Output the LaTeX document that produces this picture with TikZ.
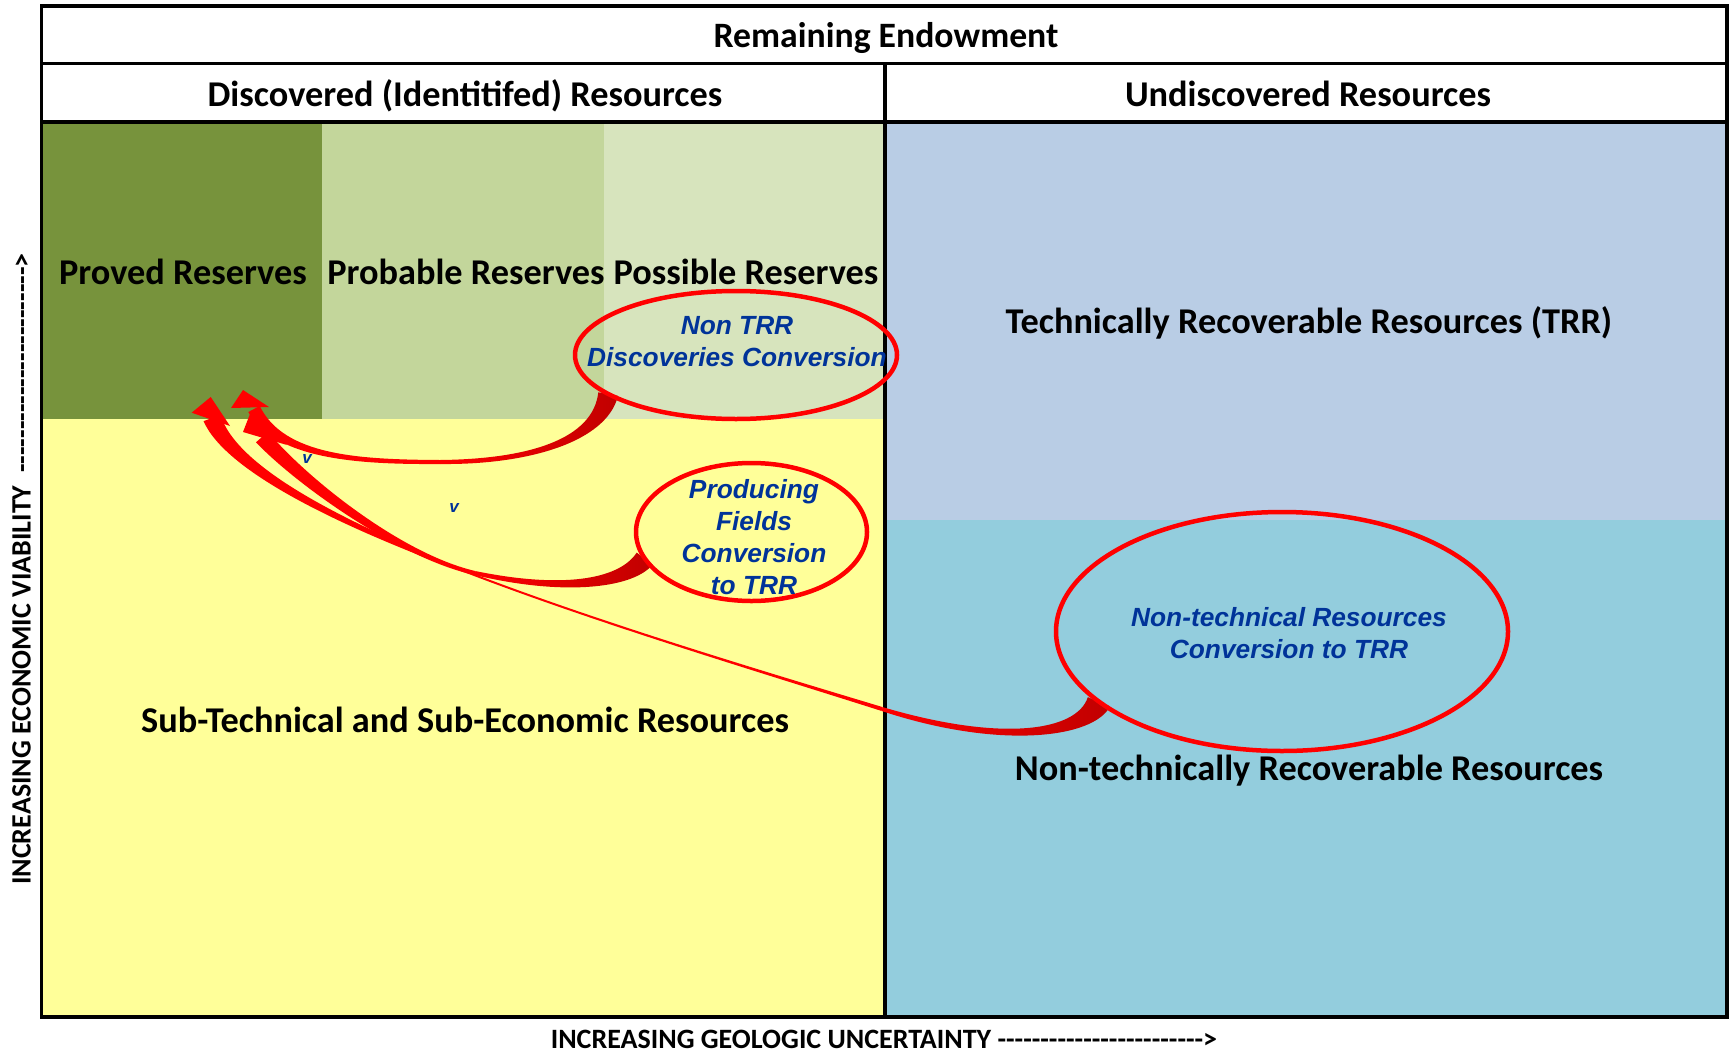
\documentclass[tikz,border=0pt]{standalone}
\usepackage{fontspec}
\setmainfont{Carlito}
\newfontfamily\calfont{Carlito}
\newfontfamily\arfont{Liberation Sans}
\usetikzlibrary{shapes.geometric,calc}
\definecolor{provedc}{RGB}{119,147,60}
\definecolor{probc}{RGB}{195,214,155}
\definecolor{possc}{RGB}{215,228,189}
\definecolor{subc}{RGB}{255,255,153}
\definecolor{trrc}{RGB}{185,205,229}
\definecolor{ntrc}{RGB}{147,205,221}
\definecolor{bluetxt}{RGB}{0,51,153}
\definecolor{arrred}{RGB}{255,0,0}
\definecolor{arrdark}{RGB}{192,0,0}
% tapered band along a cubic: #1 style, #2..#5 points, #6..#9 half widths
\newcommand{\taperseg}[9]{%
  \path[#1] ($(#2)!#6!90:(#3)$) .. controls ($(#3)!#7!-90:(#2)$) and ($(#4)!#8!90:(#5)$) .. ($(#5)!#9!-90:(#4)$)
    -- ($(#5)!#9!90:(#4)$) .. controls ($(#4)!#8!-90:(#5)$) and ($(#3)!#7!90:(#2)$) .. ($(#2)!#6!-90:(#3)$) -- cycle;}
\newcommand{\dashrun}[1]{\foreach \i in {1,...,#1}{\hbox{-}}}
\begin{document}
\begin{tikzpicture}[x=1pt,y=-1pt,
  lbl/.style={anchor=base,inner sep=0pt,font=\calfont\bfseries\fontsize{36.3}{42}\selectfont},
  axislbl/.style={anchor=base,inner sep=0pt,text depth=0pt,font=\calfont\bfseries\fontsize{28}{34}\selectfont},
  bluelbl/.style={align=center,text=bluetxt,inner sep=0pt,font=\arfont\bfseries\itshape\fontsize{26.3}{32}\selectfont},
  frameline/.style={line width=3.5pt,black},
  ovalline/.style={draw=arrred,line width=4.5pt},
  tinyv/.style={text=bluetxt,inner sep=0pt,font=\arfont\bfseries\itshape\fontsize{17}{19}\selectfont},
  arrbody/.style={fill=arrred},
  arrstart/.style={left color=arrred,right color=arrdark},
  arrhead/.style={fill=arrred}]
\useasboundingbox (0,0) rectangle (1731,1052);
\fill[white] (0,0) rectangle (1731,1052);
% coloured regions
\fill[provedc] (42,122) rectangle (322,419);
\fill[probc] (322,122) rectangle (604,419);
\fill[possc] (604,122) rectangle (885,419);
\fill[subc] (42,419) rectangle (885,1017);
\fill[trrc] (885,122) rectangle (1727,520);
\fill[ntrc] (885,520) rectangle (1727,1017);
% frame
\draw[frameline] (41.5,6) rectangle (1727,1017);
\draw[frameline] (41.5,63.5) -- (1727,63.5);
\draw[frameline] (41.5,122) -- (1727,122);
\draw[frameline] (885,63.5) -- (885,1017);
% labels
\node[lbl,font=\calfont\bfseries\fontsize{35.7}{42}\selectfont] (rem) at (886,47.3) {Remaining Endowment};
\node[lbl] (disc) at (465,106.3) {Discovered (Identitifed) Resources};
\node[lbl] (undisc) at (1308,106.3) {Undiscovered Resources};
\node[lbl] (proved) at (183,284.3) {Proved Reserves};
\node[lbl] (probable) at (466,284.3) {Probable Reserves};
\node[lbl] (possible) at (746,284.3) {Possible Reserves};
\node[lbl] (trr) at (1309,333.3) {Technically Recoverable Resources (TRR)};
\node[lbl] (sub) at (465,732.3) {Sub-Technical and Sub-Economic Resources};
\node[lbl] (ntr) at (1309,780.3) {Non-technically Recoverable Resources};
\node[axislbl,rotate=90] (ylab) at (30.5,569) {INCREASING ECONOMIC VIABILITY\ \ \dashrun{24}>};
\node[axislbl] (xlab) at (884,1048) {INCREASING GEOLOGIC UNCERTAINTY \dashrun{24}>};
\node[tinyv] (v1) at (307,459) {v};
\node[tinyv] (v2) at (454,508) {v};
% ellipses
\path (736,355) coordinate (ntrrc) (751.5,532) coordinate (prodc) (1282,631.5) coordinate (ntechc);
\node[ellipse,inner sep=0pt,minimum width=322pt,minimum height=128pt] (ntrr) at (ntrrc) {};
\node[ellipse,inner sep=0pt,minimum width=231pt,minimum height=138pt] (prod) at (prodc) {};
\node[ellipse,inner sep=0pt,minimum width=452pt,minimum height=239pt] (ntech) at (ntechc) {};
% arrow head tips
\coordinate (tipA) at (243,390);
\coordinate (tipB) at (210.7,397);
\coordinate (tipC) at (250,414);
% Arrow C: producing fields -> proved
\taperseg{arrstart}{prod.194}{625,585}{560,592}{475,573}{10pt}{8pt}{3.5pt}{2pt}
\taperseg{arrbody}{475,573}{400,556.2}{300,480}{262,437}{2pt}{2.5pt}{6pt}{8pt}
\fill[arrhead] (243,432) -- (tipC) -- (287,445) -- cycle;
% Arrow A: non TRR -> proved
\taperseg{arrstart}{ntrr.197}{600,440}{530,462}{440,462}{10pt}{7pt}{3pt}{2pt}
\taperseg{arrbody}{440,462}{360,462}{280,458}{254,409}{2pt}{2.5pt}{4.5pt}{6.5pt}
\fill[arrhead] (231,408) -- (tipA) -- (269,407) -- cycle;
% Arrow B: non-technical -> proved
\taperseg{arrstart}{ntech.201}{1085,735}{1000,746}{882,709}{12pt}{9pt}{4pt}{2pt}
\taperseg{arrbody}{882,709}{761,671.5}{603,624.25}{470.5,573.6}{2pt}{1pt}{1pt}{1pt}
\taperseg{arrbody}{470.5,573.6}{338,523}{231,469}{212,418}{1pt}{3pt}{6pt}{9pt}
\fill[arrhead] (191.7,412.7) -- (tipB) -- (230,426) -- cycle;
% red ovals
\draw[ovalline] (ntrr.center) ellipse [x radius=161, y radius=64];
\draw[ovalline] (prod.center) ellipse [x radius=115.5, y radius=69];
\draw[ovalline] (ntech.center) ellipse [x radius=226, y radius=119.5];
% oval texts
\node[bluelbl] (ntrrtxt) at (737,342) {Non TRR\\Discoveries Conversion};
\node[bluelbl] (prodtxt) at (754,537) {Producing\\Fields\\Conversion\\to TRR};
\node[bluelbl] (ntechtxt) at (1289,633.5) {Non-technical Resources\\Conversion to TRR};
\end{tikzpicture}
\end{document}
